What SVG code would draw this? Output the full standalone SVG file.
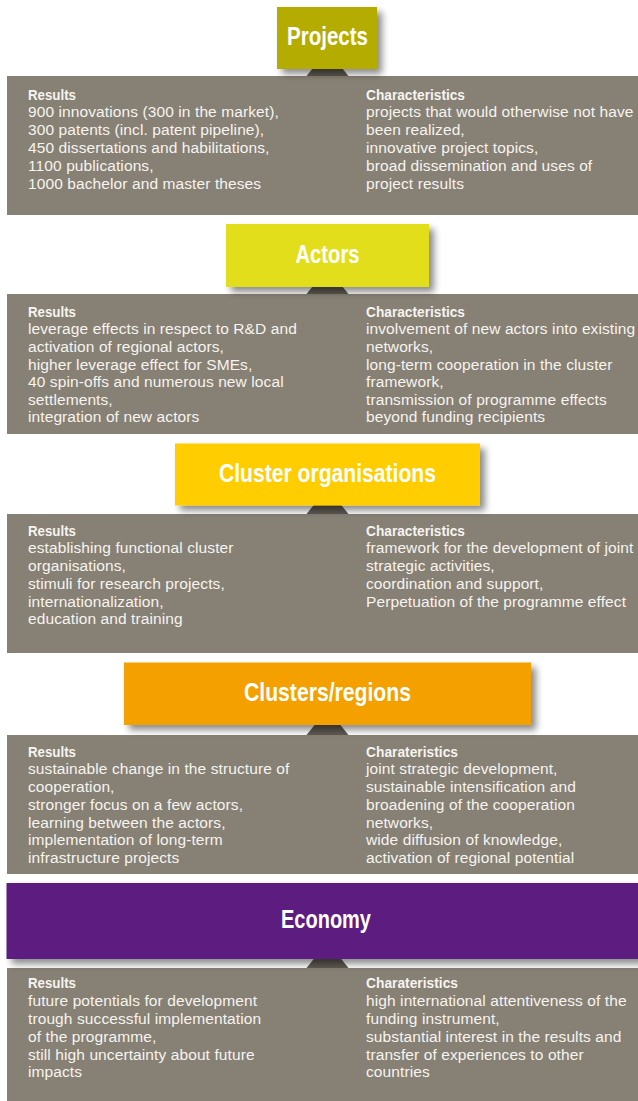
<svg xmlns="http://www.w3.org/2000/svg" width="638" height="1101" viewBox="0 0 638 1101">
<style>
.panel{fill:#878074}
.ptr{fill:#5f5a52}
.hdr{font-family:"Liberation Sans",Arial,sans-serif;font-weight:bold;font-size:25px;fill:#ffffff;text-anchor:middle}
.body{font-family:"Liberation Sans",Arial,sans-serif;font-size:15.5px;fill:#f6f4f0;letter-spacing:0.1px}
.h{font-weight:bold;letter-spacing:0}
</style>
<defs>
<filter id="sh" x="-10%" y="-20%" width="130%" height="150%">
<feDropShadow dx="5" dy="5" stdDeviation="3.5" flood-color="#000" flood-opacity="0.45"/>
</filter>
</defs>
<rect width="638" height="1101" fill="#ffffff"/>

<g id="panel-projects"><rect class="panel" x="7" y="76" width="631" height="139"/>
<text class="body" x="28" y="99.5"><tspan class="h" textLength="48" lengthAdjust="spacingAndGlyphs">Results</tspan><tspan x="28" dy="17.8">900 innovations (300 in the market),</tspan><tspan x="28" dy="17.8">300 patents (incl. patent pipeline),</tspan><tspan x="28" dy="17.8">450 dissertations and habilitations,</tspan><tspan x="28" dy="17.8">1100 publications,</tspan><tspan x="28" dy="17.8">1000 bachelor and master theses</tspan></text>
<text class="body" x="366" y="99.5"><tspan class="h" textLength="99" lengthAdjust="spacingAndGlyphs">Characteristics</tspan><tspan x="366" dy="17.8">projects that would otherwise not have</tspan><tspan x="366" dy="17.8">been realized,</tspan><tspan x="366" dy="17.8">innovative project topics,</tspan><tspan x="366" dy="17.8">broad dissemination and uses of</tspan><tspan x="366" dy="17.8">project results</tspan></text>
</g>
<g id="panel-actors"><rect class="panel" x="7" y="294" width="631" height="140"/>
<text class="body" x="28" y="316.7"><tspan class="h" textLength="48" lengthAdjust="spacingAndGlyphs">Results</tspan><tspan x="28" dy="17.6">leverage effects in respect to R&amp;D and</tspan><tspan x="28" dy="17.6">activation of regional actors,</tspan><tspan x="28" dy="17.6">higher leverage effect for SMEs,</tspan><tspan x="28" dy="17.6">40 spin-offs and numerous new local</tspan><tspan x="28" dy="17.6">settlements,</tspan><tspan x="28" dy="17.6">integration of new actors</tspan></text>
<text class="body" x="366" y="316.7"><tspan class="h" textLength="99" lengthAdjust="spacingAndGlyphs">Characteristics</tspan><tspan x="366" dy="17.6">involvement of new actors into existing</tspan><tspan x="366" dy="17.6">networks,</tspan><tspan x="366" dy="17.6">long-term cooperation in the cluster</tspan><tspan x="366" dy="17.6">framework,</tspan><tspan x="366" dy="17.6">transmission of programme effects</tspan><tspan x="366" dy="17.6">beyond funding recipients</tspan></text>
</g>
<g id="panel-cluster-organisations"><rect class="panel" x="7" y="514" width="631" height="139"/>
<text class="body" x="28" y="535.7"><tspan class="h" textLength="48" lengthAdjust="spacingAndGlyphs">Results</tspan><tspan x="28" dy="17.7">establishing functional cluster</tspan><tspan x="28" dy="17.7">organisations,</tspan><tspan x="28" dy="17.7">stimuli for research projects,</tspan><tspan x="28" dy="17.7">internationalization,</tspan><tspan x="28" dy="17.7">education and training</tspan></text>
<text class="body" x="366" y="535.7"><tspan class="h" textLength="99" lengthAdjust="spacingAndGlyphs">Characteristics</tspan><tspan x="366" dy="17.7">framework for the development of joint</tspan><tspan x="366" dy="17.7">strategic activities,</tspan><tspan x="366" dy="17.7">coordination and support,</tspan><tspan x="366" dy="17.7">Perpetuation of the programme effect</tspan></text>
</g>
<g id="panel-clusters-regions"><rect class="panel" x="7" y="735" width="631" height="139"/>
<text class="body" x="28" y="756.7"><tspan class="h" textLength="48" lengthAdjust="spacingAndGlyphs">Results</tspan><tspan x="28" dy="17.7">sustainable change in the structure of</tspan><tspan x="28" dy="17.7">cooperation,</tspan><tspan x="28" dy="17.7">stronger focus on a few actors,</tspan><tspan x="28" dy="17.7">learning between the actors,</tspan><tspan x="28" dy="17.7">implementation of long-term</tspan><tspan x="28" dy="17.7">infrastructure projects</tspan></text>
<text class="body" x="366" y="756.7"><tspan class="h" textLength="92" lengthAdjust="spacingAndGlyphs">Charateristics</tspan><tspan x="366" dy="17.7">joint strategic development,</tspan><tspan x="366" dy="17.7">sustainable intensification and</tspan><tspan x="366" dy="17.7">broadening of the cooperation</tspan><tspan x="366" dy="17.7">networks,</tspan><tspan x="366" dy="17.7">wide diffusion of knowledge,</tspan><tspan x="366" dy="17.7">activation of regional potential</tspan></text>
</g>
<g id="panel-economy"><rect class="panel" x="7" y="968" width="631" height="133"/>
<text class="body" x="28" y="988.3"><tspan class="h" textLength="48" lengthAdjust="spacingAndGlyphs">Results</tspan><tspan x="28" dy="17.8">future potentials for development</tspan><tspan x="28" dy="17.8">trough successful implementation</tspan><tspan x="28" dy="17.8">of the programme,</tspan><tspan x="28" dy="17.8">still high uncertainty about future</tspan><tspan x="28" dy="17.8">impacts</tspan></text>
<text class="body" x="366" y="988.3"><tspan class="h" textLength="92" lengthAdjust="spacingAndGlyphs">Charateristics</tspan><tspan x="366" dy="17.8">high international attentiveness of the</tspan><tspan x="366" dy="17.8">funding instrument,</tspan><tspan x="366" dy="17.8">substantial interest in the results and</tspan><tspan x="366" dy="17.8">transfer of experiences to other</tspan><tspan x="366" dy="17.8">countries</tspan></text>
</g>

<g id="connectors">
<polygon class="ptr" points="327.5,50 348.5,76 306.5,76"/>
<polygon class="ptr" points="327.5,268 348.5,294 306.5,294"/>
<polygon class="ptr" points="327.5,488 348.5,514 306.5,514"/>
<polygon class="ptr" points="327.5,709 348.5,735 306.5,735"/>
<polygon class="ptr" points="327.5,942 348.5,968 306.5,968"/>
</g>

<g id="node-projects"><rect x="277" y="7" width="100" height="62" fill="#b5ac00" filter="url(#sh)"/>
<text class="hdr" x="327.5" y="45" textLength="81" lengthAdjust="spacingAndGlyphs">Projects</text></g>
<g id="node-actors"><rect x="226" y="224" width="203" height="63" fill="#e3de1e" filter="url(#sh)"/>
<text class="hdr" x="327.5" y="263" textLength="64" lengthAdjust="spacingAndGlyphs">Actors</text></g>
<g id="node-cluster-organisations"><rect x="175" y="443.5" width="305" height="62" fill="#ffcd00" filter="url(#sh)"/>
<text class="hdr" x="327.5" y="482" textLength="217" lengthAdjust="spacingAndGlyphs">Cluster organisations</text></g>
<g id="node-clusters-regions"><rect x="124" y="662.5" width="407" height="62.5" fill="#f4a000" filter="url(#sh)"/>
<text class="hdr" x="327.5" y="701" textLength="167" lengthAdjust="spacingAndGlyphs">Clusters/regions</text></g>
<g id="node-economy"><rect x="6.5" y="883" width="640" height="76" fill="#5d1f80" filter="url(#sh)"/>
<text class="hdr" x="326" y="928" textLength="90" lengthAdjust="spacingAndGlyphs">Economy</text></g>
</svg>
